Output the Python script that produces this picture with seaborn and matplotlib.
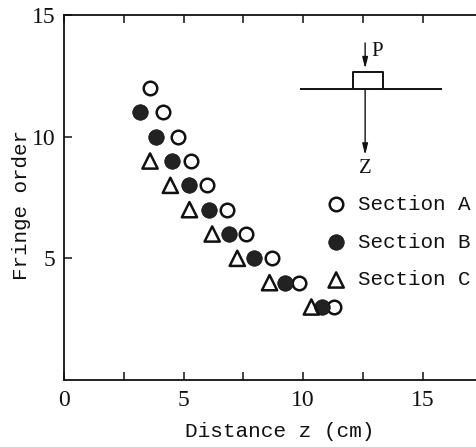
import pandas as pd
import matplotlib
matplotlib.use('Agg')
import matplotlib.pyplot as plt
import seaborn as sns

# fringe order, one distance list per section
order_a = [12, 11, 10, 9, 8, 7, 6, 5, 4, 3]
dist_a = [3.6, 4.15, 4.75, 5.3, 6.0, 6.8, 7.6, 8.7, 9.85, 11.3]
order_b = [11, 10, 9, 8, 7, 6, 5, 4, 3]
dist_b = [3.2, 3.85, 4.5, 5.25, 6.05, 6.9, 7.95, 9.25, 10.8]
order_c = [9, 8, 7, 6, 5, 4, 3]
dist_c = [3.6, 4.45, 5.25, 6.2, 7.25, 8.6, 10.35]

x_ticks = [0, 5, 10, 15]
x_minor = [2.5, 7.5, 12.5]
y_ticks = [5, 10, 15]

sns.set_theme(style='white')
plt.rcParams['font.family'] = ['Liberation Mono', 'DejaVu Sans Mono']
INK = '#111111'
# the scan's digits are very condensed, serif digits are the closest in width
NARROW = ['Liberation Serif', 'Liberation Mono']

df_a = pd.DataFrame({'z': dist_a, 'order': order_a})
df_b = pd.DataFrame({'z': dist_b, 'order': order_b})
df_c = pd.DataFrame({'z': dist_c, 'order': order_c})

fig = plt.figure(figsize=(4.76, 4.47), dpi=100)
ax = fig.add_axes([64 / 476, (447 - 380) / 447, 412 / 476, 365 / 447])

sns.scatterplot(data=df_a, x='z', y='order', ax=ax, marker='o', s=95, facecolor='white',
                edgecolor=INK, linewidth=1.8, label='Section A', zorder=3)
sns.scatterplot(data=df_b, x='z', y='order', ax=ax, marker='o', s=125, color='#222222',
                edgecolor=INK, linewidth=0.5, label='Section B', zorder=4)
sns.scatterplot(data=df_c, x='z', y='order', ax=ax, marker='^', s=120, facecolor='none',
                edgecolor=INK, linewidth=1.8, label='Section C', zorder=5)

ax.set_xlim(0, 412 / 23.9)
ax.set_ylim(0, 15)

ax.set_xticks(x_ticks)
ax.set_xticks(x_minor, minor=True)
ax.set_yticks(y_ticks)
ax.tick_params(axis='both', which='both', direction='in', top=True, bottom=True, left=True,
               color=INK, width=1.1, length=6)
ax.tick_params(axis='x', labelsize=17, pad=7, labelcolor=INK)
ax.tick_params(axis='y', labelsize=17, pad=6, labelcolor=INK)
for lab in ax.get_xticklabels() + ax.get_yticklabels():
    lab.set_family(NARROW)

for side in ['left', 'bottom', 'top']:
    ax.spines[side].set_color(INK)
    ax.spines[side].set_linewidth(1.3)
ax.spines['right'].set_visible(False)

ax.set_xlabel('Distance z (cm)', fontsize=15.2, color=INK)
ax.set_ylabel('Fringe order', fontsize=15, color=INK)
ax.xaxis.set_label_coords(0.524, -0.115)
ax.yaxis.set_label_coords(-0.08, 0.48)

leg = ax.legend(loc='upper left', bbox_to_anchor=(0.61, 0.507), frameon=False, fontsize=15,
                labelspacing=0.9, handletextpad=0.05, borderpad=0, borderaxespad=0)
for t in leg.get_texts():
    t.set_color(INK)

# small sketch of the loaded block
line_kw = dict(color=INK, lw=1.4, solid_capstyle='butt')
ax.plot([9.87, 15.8], [11.96, 11.96], **line_kw)
ax.plot([12.08, 12.08, 13.33, 13.33], [11.96, 12.65, 12.65, 11.96], **line_kw)
arrow_kw = dict(arrowstyle='-|>,head_width=0.15,head_length=0.6', color=INK, lw=1.0,
                mutation_scale=11, shrinkA=0, shrinkB=0)
ax.annotate('', xy=(12.6, 9.25), xytext=(12.6, 11.96), arrowprops=arrow_kw)
ax.annotate('', xy=(12.6, 12.8), xytext=(12.6, 13.85), arrowprops=arrow_kw)
ax.text(13.1, 13.5, 'P', fontsize=15, color=INK, ha='center', va='center', family=NARROW)
ax.text(12.6, 8.7, 'Z', fontsize=15, color=INK, ha='center', va='center', family=NARROW)

fig.savefig('out.png', dpi=100)
plt.close(fig)
